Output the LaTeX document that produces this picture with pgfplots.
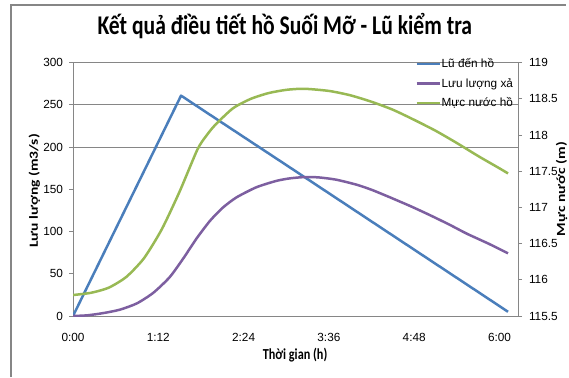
\documentclass[border=0pt]{standalone}
\usepackage{fontspec}
\usepackage{graphicx}
\usepackage{pgfplots}
\pgfplotsset{compat=1.18}
\setmainfont{Liberation Sans}
\newfontfamily\labfont[FakeStretch=0.8]{Carlito}
\newfontfamily\rotfont{Carlito}
\definecolor{sblue}{HTML}{4A7EBB}
\definecolor{spurple}{HTML}{7D5FA0}
\definecolor{sgreen}{HTML}{98B954}
\definecolor{axgray}{HTML}{868686}
\begin{document}
\begin{tikzpicture}
\useasboundingbox (0pt,0pt) rectangle (569pt,-377pt);
\draw[axgray, line width=1.4pt] (11pt,-377pt) -- (11pt,-5pt) -- (566pt,-5pt);
\begin{axis}[
  at={(73pt,-316pt)}, anchor=south west,
  scale only axis, width=445pt, height=253.3pt,
  xmin=0, xmax=6.26, ymin=0, ymax=300,
  axis line style={axgray, line width=0.9pt},
  xtick={0,1.2,2.4,3.6,4.8,6.0},
  xticklabels={0:00,1:12,2:24,3:36,4:48,6:00},
  xtick style={draw=none},
  ytick={0,50,100,150,200,250,300},
  yticklabels={0,50,100,150,200,250,300},
  ytick pos=left, tick align=outside, major tick length=4pt,
  ytick style={axgray, line width=0.9pt},
  extra y ticks={200,250}, extra y tick labels={},
  extra y tick style={grid=major, major grid style={axgray, line width=0.9pt}},
  tick label style={font=\fontsize{11.8}{14}\selectfont, text=black},
  xticklabel style={yshift=-10pt},
  yticklabel style={xshift=-2.5pt},
  title={\labfont\bfseries\fontsize{27}{32}\selectfont Kết quả điều tiết hồ Suối Mỡ - Lũ kiểm tra},
  title style={at={(0.476,1.0896)}, anchor=base, inner sep=0pt},
  xlabel={\labfont\bfseries\fontsize{15.3}{18}\selectfont Thời gian (h)},
  xlabel style={at={(0.499,-0.170)}, anchor=base, inner sep=0pt},
  ylabel={\scalebox{1}[0.8]{\rotfont\bfseries\fontsize{15.5}{18}\selectfont Lưu lượng (m3/s)}},
  ylabel style={at={(-0.0787,0.4935)}, anchor=base, rotate=0, inner sep=0pt},
]
\addplot[sblue, line width=2.5pt, line join=round] coordinates {
(0,0) (0.5,85.9) (1.0,171.7) (1.52,261) (2.0,234.3) (3.0,178.8) (4.0,123.1) (5.0,67.4) (6.12,5)};
\addplot[spurple, line width=2.5pt, smooth, tension=0.4] coordinates {
(0,0) (0.2,0.8) (0.43,3.5) (0.66,7.5) (0.9,15) (1.13,27.5) (1.36,46) (1.55,68) (1.74,92) (1.93,113) (2.11,128.5) (2.30,140.5) (2.58,152.5) (2.86,160) (3.05,163) (3.25,164.5) (3.45,164.2) (3.7,161.5) (3.99,155.5) (4.2,149.5) (4.46,140.5) (4.75,130) (5.02,119.5) (5.3,108) (5.54,97.5) (5.85,85.5) (6.12,74.2)};
\end{axis}
\begin{axis}[
  at={(73pt,-316pt)}, anchor=south west,
  scale only axis, width=445pt, height=253.3pt,
  xmin=0, xmax=6.26, ymin=115.5, ymax=119,
  axis x line=none, axis y line*=right,
  axis line style={axgray, line width=0.9pt},
  ytick={115.5,116,116.5,117,117.5,118,118.5,119},
  yticklabels={115.5,116,116.5,117,117.5,118,118.5,119},
  tick align=outside, major tick length=4pt,
  ytick style={axgray, line width=0.9pt},
  tick label style={font=\fontsize{11.8}{14}\selectfont, text=black},
  yticklabel style={xshift=3.5pt},
  ylabel={\scalebox{1}[0.8]{\rotfont\bfseries\fontsize{15.5}{18}\selectfont Mực nước (m)}},
  ylabel style={at={(1.1056,0.501)}, anchor=base, rotate=0, inner sep=0pt},
  legend style={at={(0.769,1.02)}, anchor=north west, draw=none, fill=none,
    font=\fontsize{11.8}{14}\selectfont, inner sep=0pt, row sep=7pt,
    nodes={inner sep=1pt, anchor=west}},
  legend cell align=left,
  legend image code/.code={\draw[#1, line width=2.2pt] (0pt,0pt) -- (23pt,0pt);},
]
\addlegendimage{sblue}
\addlegendentry{Lũ đến hồ}
\addlegendimage{spurple}
\addlegendentry{Lưu lượng xả}
\addplot[sgreen, line width=2.5pt, smooth, tension=0.4] coordinates {
(0,115.79) (0.25,115.82) (0.5,115.89) (0.75,116.04) (1.0,116.30) (1.25,116.70) (1.5,117.22) (1.75,117.80) (1.875,117.99) (2.0,118.14) (2.25,118.37) (2.5,118.50) (2.75,118.58) (3.0,118.625) (3.25,118.64) (3.6,118.61) (3.9,118.55) (4.2,118.46) (4.5,118.35) (4.8,118.21) (5.1,118.06) (5.4,117.89) (5.7,117.71) (6.0,117.54) (6.12,117.47)};
\addlegendentry{Mực nước hồ}
\end{axis}
\end{tikzpicture}
\end{document}
